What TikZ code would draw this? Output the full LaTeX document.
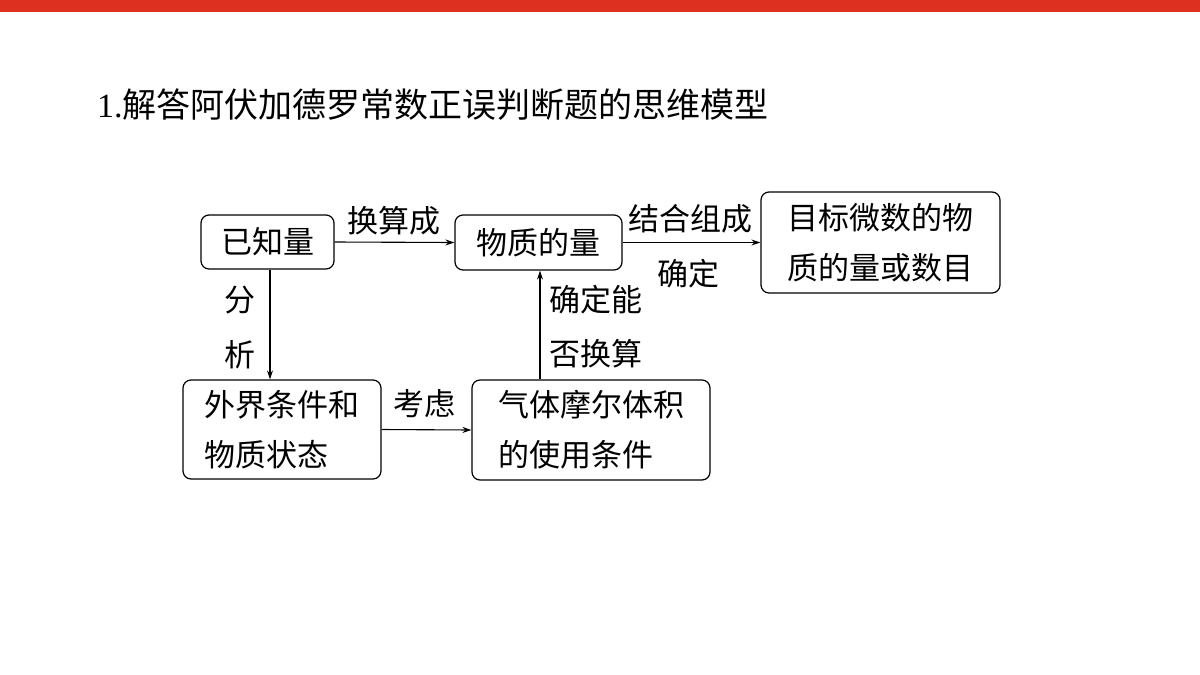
\documentclass[tikz,border=0pt]{standalone}
\usepackage{fontspec}
\newfontfamily\cjk{Noto Sans CJK SC}
\setmainfont{Liberation Serif}
\usetikzlibrary{arrows.meta}
\begin{document}
\begin{tikzpicture}[x=1pt,y=-1pt,
  box/.style={draw,line width=1.2pt,rounded corners=8pt,inner sep=0pt,font=\fontsize{31}{50}\selectfont\cjk,align=left},
  lbl/.style={font=\fontsize{31}{38}\selectfont\cjk,inner sep=0pt},
  arr/.style={line width=1.1pt,-{Stealth[length=9pt,width=6pt]}}]
\useasboundingbox (0,0) rectangle (1200,675);
\fill[fill={rgb,255:red,222;green,48;blue,32}] (0,0) rectangle (1200,12);
\node[anchor=west,inner sep=0pt,font=\fontsize{34}{40}\selectfont] (title) at (97,105) {1.{\cjk 解答阿伏加德罗常数正误判断题的思维模型}};
\node[box,minimum width=133pt,minimum height=54pt] (a) at (267.5,242) {已知量};
\node[box,minimum width=167pt,minimum height=55pt] (b) at (538.5,242.5) {物质的量};
\node[box,minimum width=239pt,minimum height=101pt] (c) at (880.5,242.5) {目标微数的物\\质的量或数目};
\node[box,minimum width=198pt,minimum height=99pt] (d) at (282,429.5) {外界条件和\\物质状态};
\node[box,minimum width=238pt,minimum height=100pt] (e) at (591,430) {气体摩尔体积\\的使用条件};
\draw[arr] (a.east) -- (b.west);
\draw[arr] (b.east) -- (c.west);
\draw[arr] (d.east) -- (e.west);
\draw[arr] (a.south-|270,0) -- (d.north-|270,0);
\draw[arr] (e.north-|540,0) -- (b.south-|540,0);
\node[lbl] (l1) at (394,221) {换算成};
\node[lbl] (l2) at (690,219) {结合组成};
\node[lbl] (l3) at (688,274) {确定};
\node[lbl] (l4) at (240,300) {分};
\node[lbl] (l5) at (240,355) {析};
\node[lbl] (l6) at (424,404) {考虑};
\node[lbl] (l7) at (596,300) {确定能};
\node[lbl] (l8) at (596,354) {否换算};
\end{tikzpicture}
\end{document}
